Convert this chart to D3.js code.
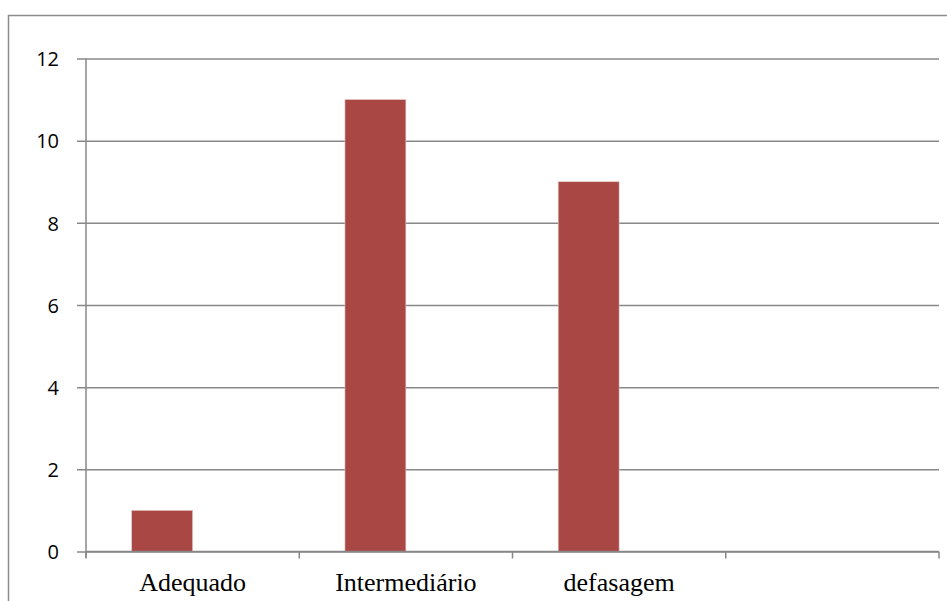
<!DOCTYPE html>
<html>
<head>
<meta charset="utf-8">
<script src="https://cdn.jsdelivr.net/npm/d3@7"></script>
<style>
  html, body { margin: 0; padding: 0; background: #fff; }
  svg { display: block; }
</style>
</head>
<body>
<svg id="chart" width="947" height="601"></svg>
<script>
// Category slots (the last slot is empty) and the two series per slot
const categories = ["Adequado", "Intermediário", "defasagem", ""];
const seriesA = [1, 11, 9, null];
const seriesB = [null, null, null, null];
const yTicks = [0, 2, 4, 6, 8, 10, 12];

const svg = d3.select("#chart");
const m = { left: 86, right: 939, top: 58.5, bottom: 551.5 };

// Outer chart frame
svg.append("rect")
  .attr("x", 8.5).attr("y", 15.5)
  .attr("width", 960).attr("height", 620)
  .attr("fill", "none").attr("stroke", "#8c8c8c").attr("stroke-width", 1.5);

const x = d3.scaleBand().domain(d3.range(categories.length))
  .range([m.left, m.right]).paddingInner(0).paddingOuter(0);
// Clustered layout: two bars per slot with a 150% gap
const bw = x.bandwidth() / 3.5;
const inner = d3.scaleBand().domain(["A", "B"])
  .range([0.75 * bw, 2.75 * bw]).padding(0);

const y = d3.scaleLinear().domain([0, 12]).range([m.bottom, m.top]);

// Horizontal gridlines with left tick stubs
const yAxis = d3.axisLeft(y).tickValues(yTicks).tickSize(-(m.right - m.left)).tickSizeOuter(0).tickPadding(27);
const gy = svg.append("g").attr("transform", `translate(${m.left},0)`).call(yAxis);
gy.select(".domain").remove();
gy.selectAll(".tick line")
  .attr("x1", -9).attr("stroke", "#888").attr("stroke-width", 1.5);
gy.selectAll(".tick text")
  .attr("font-family", "'Open Sans', 'Liberation Sans', sans-serif")
  .attr("font-size", 20).attr("fill", "#000").attr("dy", "0.36em");

// Vertical axis line
svg.append("line")
  .attr("x1", m.left).attr("x2", m.left)
  .attr("y1", m.top).attr("y2", m.bottom + 6)
  .attr("stroke", "#888").attr("stroke-width", 1.5);

// Bars
svg.append("g").selectAll("rect")
  .data(seriesA.map((v, i) => ({ v, i })).filter(d => d.v != null))
  .join("rect")
  .attr("x", d => x(d.i) + inner("A"))
  .attr("width", inner.bandwidth())
  .attr("y", d => y(d.v))
  .attr("height", d => y(0) - y(d.v))
  .attr("fill", "#a84744")
  .attr("stroke", "#e8c8c6").attr("stroke-width", 0.6);

svg.append("g").selectAll("rect")
  .data(seriesB.map((v, i) => ({ v, i })).filter(d => d.v != null))
  .join("rect")
  .attr("x", d => x(d.i) + inner("B"))
  .attr("width", inner.bandwidth())
  .attr("y", d => y(d.v))
  .attr("height", d => y(0) - y(d.v))
  .attr("fill", "#4a7ebb");

// Category axis with boundary ticks
const gx = svg.append("g").attr("transform", `translate(0,${m.bottom})`);
gx.append("line")
  .attr("x1", m.left).attr("x2", m.right)
  .attr("stroke", "#888").attr("stroke-width", 1.5);
const bounds = d3.range(categories.length + 1).map(i => i < categories.length ? x(i) : m.right);
gx.selectAll("line.tk").data(bounds).join("line").attr("class", "tk")
  .attr("x1", d => d).attr("x2", d => d)
  .attr("y1", 0).attr("y2", 7)
  .attr("stroke", "#888").attr("stroke-width", 1.5);
gx.selectAll("text").data(categories).join("text")
  .attr("x", (d, i) => x(i) + x.bandwidth() / 2)
  .attr("y", 39)
  .attr("text-anchor", "middle")
  .attr("font-family", "'Liberation Serif', 'Times New Roman', serif")
  .attr("font-size", 26).attr("fill", "#000")
  .text(d => d);
</script>
</body>
</html>
